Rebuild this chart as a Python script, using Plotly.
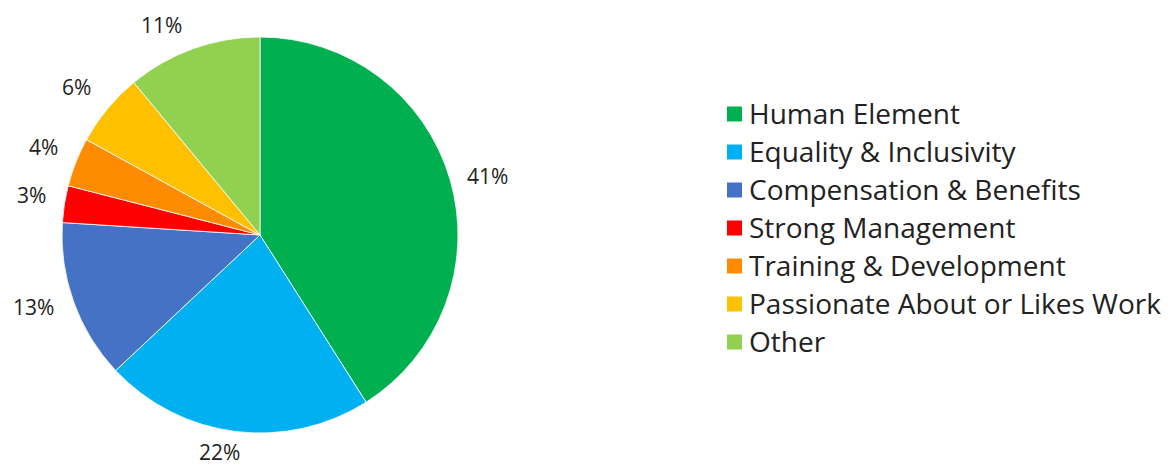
import math
import plotly.graph_objects as go

# Survey categories and their shares (percent)
categories = [
    "Human Element",
    "Equality & Inclusivity",
    "Compensation & Benefits",
    "Strong Management",
    "Training & Development",
    "Passionate About or Likes Work",
    "Other",
]
shares = [41, 22, 13, 3, 4, 6, 11]
colors = ["#00B050", "#00B0F0", "#4472C4", "#FF0000", "#FF8C00", "#FFC000", "#92D050"]

W, H = 1175, 468
cx, cy, r = 260, 235, 198  # pie centre / radius in pixels (y from top)

# Outside-label placement: angular nudge (deg) and distance from centre (px)
label_nudge = [1.7, 3.3, 2.1, 0.9, 0.4, -0.7, -5.3]
label_dist = [235, 221, 238, 232, 234, 236, 232]

TEXT = "#222222"
LABEL_FONT = dict(family="Open Sans", size=21, color=TEXT)
LEGEND_FONT = dict(family="Open Sans", size=28, color=TEXT)

fig = go.Figure(
    go.Pie(
        labels=categories,
        values=shares,
        marker=dict(colors=colors, line=dict(color="white", width=0.8)),
        sort=False,
        direction="clockwise",
        rotation=0,
        textinfo="none",
        hoverinfo="label+percent",
        showlegend=False,
        domain=dict(
            x=[(cx - r) / W, (cx + r) / W],
            y=[(H - cy - r) / H, (H - cy + r) / H],
        ),
    )
)

# Percentage labels just outside each slice, around its mid-angle
total = sum(shares)
acc = 0
for v, nud, dist in zip(shares, label_nudge, label_dist):
    mid = math.radians((acc + v / 2) / total * 360 + nud)
    acc += v
    px = cx + dist * math.sin(mid)
    py = cy - dist * math.cos(mid)
    fig.add_annotation(
        x=px / W, y=1 - py / H, xref="paper", yref="paper",
        text=f"{v}%", showarrow=False,
        xanchor="center", yanchor="middle",
        font=LABEL_FONT,
    )

# Legend: coloured squares with category names
leg_x, leg_y0, leg_step, sq = 727, 114, 38, 15
for i, (name, col) in enumerate(zip(categories, colors)):
    yc = leg_y0 + i * leg_step
    fig.add_shape(
        type="rect", xref="paper", yref="paper",
        x0=leg_x / W, x1=(leg_x + sq) / W,
        y0=1 - (yc + sq / 2) / H, y1=1 - (yc - sq / 2) / H,
        fillcolor=col, line=dict(width=0),
    )
    fig.add_annotation(
        x=(leg_x + sq + 5) / W, y=1 - (yc - 1) / H, xref="paper", yref="paper",
        text=name, showarrow=False,
        xanchor="left", yanchor="middle",
        font=LEGEND_FONT,
    )

fig.update_layout(
    width=W, height=H,
    margin=dict(l=0, r=0, t=0, b=0),
    paper_bgcolor="white",
    plot_bgcolor="white",
    showlegend=False,
)

fig.write_html("out.html")
